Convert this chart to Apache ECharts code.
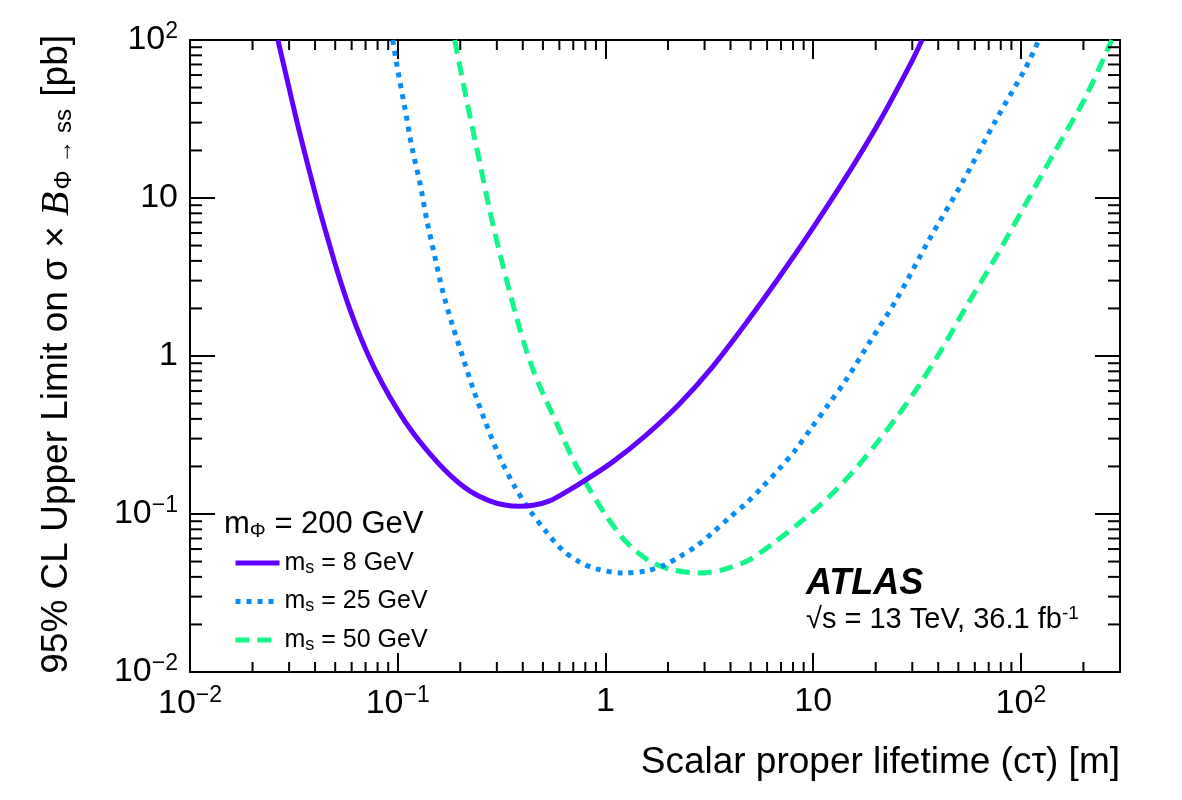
<!DOCTYPE html>
<html><head><meta charset="utf-8">
<script src="https://cdn.jsdelivr.net/npm/echarts@6/dist/echarts.min.js"></script>
<style>html,body{margin:0;padding:0;background:#fff}#c{width:1182px;height:800px}</style>
</head><body><div id="c"></div>
<script>
// ---------------- data ----------------
const seriesNames = ['m_s = 8 GeV', 'm_s = 25 GeV', 'm_s = 50 GeV'];

const ctau8 = [0.0265,0.0296,0.0330,0.0369,0.0412,0.0461,0.0515,0.0588,0.0671,0.0775,0.0916,0.114,0.143,0.178,0.222,0.277,0.327,0.386,0.456,0.538,0.635,0.750,1.08,1.57,2.27,3.27,4.76,6.87,9.89,14.4,20.8,29.9,33.4];
const limit8 = [100,53.4,29.0,16.2,9.29,5.50,3.35,1.98,1.26,0.828,0.551,0.350,0.240,0.177,0.140,0.121,0.114,0.112,0.114,0.121,0.136,0.155,0.213,0.316,0.497,0.851,1.62,3.16,6.36,13.6,30.3,73.6,100];

const ctau25 = [0.0946,0.100,0.108,0.117,0.128,0.138,0.151,0.164,0.182,0.203,0.230,0.262,0.309,0.365,0.431,0.520,0.621,0.750,0.905,1.21,1.57,1.92,2.27,2.74,3.27,3.94,4.76,5.69,6.87,8.28,9.89,11.9,14.4,18.6,25.1,36.1,52.0,75.9,106,122];
const limit25 = [100,64.6,37.7,21.0,12.4,7.26,4.24,2.62,1.62,1.04,0.627,0.394,0.230,0.150,0.106,0.0769,0.0591,0.0497,0.0449,0.0424,0.0436,0.0475,0.0535,0.0627,0.0759,0.0944,0.117,0.148,0.193,0.258,0.356,0.497,0.705,1.21,2.26,5.42,12.4,31.2,67.5,100];

const ctau50 = [0.188,0.203,0.222,0.248,0.277,0.309,0.345,0.386,0.431,0.482,0.581,0.693,0.837,1.01,1.26,1.63,2.10,2.83,3.65,4.92,6.35,8.57,11.9,16.1,20.8,25.1,32.4,41.7,54.4,75.9,106,147,205,274];
const limit50 = [100,60.0,33.5,16.9,8.40,4.55,2.58,1.50,0.944,0.646,0.377,0.226,0.144,0.0971,0.0665,0.0504,0.0443,0.0424,0.0443,0.0512,0.0646,0.0877,0.128,0.195,0.294,0.406,0.655,1.11,2.04,4.24,9.29,20.1,43.6,100];

const xTickValues = [0.01, 0.1, 1, 10, 100];
const xTickLabels = ['10^\u22122', '10^\u22121', '1', '10', '10^2'];
const yTickValues = [0.01, 0.1, 1, 10, 100];
const yTickLabels = ['10^\u22122', '10^\u22121', '1', '10', '10^2'];

const xTitle = 'Scalar proper lifetime (c\u03C4) [m]';
const expLabel = 'ATLAS';

// ---------------- helpers ----------------
const F = "'Liberation Sans', Arial, Helvetica, sans-serif";
const colors = ['#6200ff', '#0a8cf5', '#14f58a'];

function zip(a, b) { return a.map((v, i) => [v, b[i]]); }
function toRich(lbl) {
  const i = lbl.indexOf('^');
  if (i < 0) return '{b|' + lbl + '}';
  return '{b|' + lbl.slice(0, i) + '}{sup|' + lbl.slice(i + 1) + '}';
}
function labelFor(values, labels) {
  return function (v) {
    for (let i = 0; i < values.length; i++) {
      if (Math.abs(Math.log10(v) - Math.log10(values[i])) < 1e-6) return toRich(labels[i]);
    }
    return '';
  };
}
function legendRich(name) {
  const m = name.match(/^(\w)_(\w+)(.*)$/);
  return '{m|' + m[1] + '}{sub|' + m[2] + '}{m|' + m[3] + '}';
}
const tickRich = {
  b: { fontFamily: F, fontSize: 34, color: '#000', lineHeight: 36 },
  sup: { fontFamily: F, fontSize: 23, color: '#000', padding: [0, 0, 16, 0] }
};

// minor ticks (axis furniture)
const minorX = [], minorY = [];
for (let e = -2; e <= 2; e++) for (let m = 2; m <= 9; m++) { const v = m * Math.pow(10, e); if (v < 300) minorX.push([v, 1]); }
for (let e = -2; e <= 1; e++) for (let m = 2; m <= 9; m++) minorY.push([1, m * Math.pow(10, e)]);

const MAJX = 19, MINX = 10, MAJY = 25, MINY = 12;

function minorXItem(params, api) {
  const cs = params.coordSys;
  const p = api.coord([api.value(0), api.value(1)]);
  const x = p[0], b = cs.y + cs.height, t = cs.y;
  const st = { stroke: '#000', lineWidth: 2 };
  return { type: 'group', children: [
    { type: 'line', shape: { x1: x, y1: b, x2: x, y2: b - MINX }, style: st },
    { type: 'line', shape: { x1: x, y1: t, x2: x, y2: t + MINX }, style: st }
  ] };
}
function minorYItem(params, api) {
  const cs = params.coordSys;
  const p = api.coord([api.value(0), api.value(1)]);
  const y = p[1], l = cs.x, r = cs.x + cs.width;
  const st = { stroke: '#000', lineWidth: 2 };
  return { type: 'group', children: [
    { type: 'line', shape: { x1: l, y1: y, x2: l + MINY, y2: y }, style: st },
    { type: 'line', shape: { x1: r, y1: y, x2: r - MINY, y2: y }, style: st }
  ] };
}

const axisLine = { show: true, onZero: false, lineStyle: { color: '#000', width: 2 } };

const chart = echarts.init(document.getElementById('c'), null, { renderer: 'canvas' });
chart.setOption({
  animation: false,
  backgroundColor: '#fff',
  grid: { left: 190, right: 62, top: 40, bottom: 128, containLabel: false },
  xAxis: [
    { type: 'log', logBase: 10, min: 0.01, max: 300, position: 'bottom',
      axisLine: axisLine, splitLine: { show: false },
      axisTick: { show: true, inside: true, length: MAJX, lineStyle: { color: '#000', width: 2 } },
      axisLabel: { show: true, margin: 12, formatter: labelFor(xTickValues, xTickLabels), rich: tickRich, showMaxLabel: false } },
    { type: 'log', logBase: 10, min: 0.01, max: 300, position: 'top',
      axisLine: axisLine, splitLine: { show: false },
      axisTick: { show: true, inside: true, length: MAJX, lineStyle: { color: '#000', width: 2 } },
      axisLabel: { show: false } }
  ],
  yAxis: [
    { type: 'log', logBase: 10, min: 0.01, max: 100, position: 'left',
      axisLine: axisLine, splitLine: { show: false },
      axisTick: { show: true, inside: true, length: MAJY, lineStyle: { color: '#000', width: 2 } },
      axisLabel: { show: true, margin: 12, formatter: labelFor(yTickValues, yTickLabels), rich: tickRich } },
    { type: 'log', logBase: 10, min: 0.01, max: 100, position: 'right',
      axisLine: axisLine, splitLine: { show: false },
      axisTick: { show: true, inside: true, length: MAJY, lineStyle: { color: '#000', width: 2 } },
      axisLabel: { show: false } }
  ],
  legend: {
    orient: 'vertical', left: 233, top: 549, padding: 0,
    itemWidth: 44, itemHeight: 14, itemGap: 10.5,
    data: seriesNames,
    formatter: legendRich,
    itemStyle: { opacity: 0, borderWidth: 0 },
    lineStyle: { width: 5 },
    textStyle: { color: '#000', fontFamily: F, rich: {
      m: { fontFamily: F, fontSize: 25, color: '#000', lineHeight: 26 },
      sub: { fontFamily: F, fontSize: 18, color: '#000', lineHeight: 18, padding: [10, 0, 0, 0] }
    } }
  },
  series: [
    { name: seriesNames[0], type: 'line', data: zip(ctau8, limit8), smooth: 0.3, symbol: 'none', showSymbol: false,
      lineStyle: { color: colors[0], width: 5, type: 'solid' }, itemStyle: { color: colors[0] }, z: 5 },
    { name: seriesNames[1], type: 'line', data: zip(ctau25, limit25), smooth: 0.3, symbol: 'none', showSymbol: false,
      lineStyle: { color: colors[1], width: 5, type: [5, 6], cap: 'butt' }, itemStyle: { color: colors[1] }, z: 4 },
    { name: seriesNames[2], type: 'line', data: zip(ctau50, limit50), smooth: 0.3, symbol: 'none', showSymbol: false,
      lineStyle: { color: colors[2], width: 5, type: [14, 8], cap: 'butt' }, itemStyle: { color: colors[2] }, z: 3 },
    { type: 'custom', name: 'minorX', data: minorX, renderItem: minorXItem, silent: true, z: 6, clip: false },
    { type: 'custom', name: 'minorY', data: minorY, renderItem: minorYItem, silent: true, z: 6, clip: false }
  ],
  graphic: [
    { type: 'text', x: 57, y: 35, rotation: Math.PI / 2, silent: true,
      style: { text: '{t|95% CL Upper Limit on \u03C3 \u00D7 }{bi|B}{sub|\u03A6 \u2192 ss}{t| [pb]}',
        align: 'right', verticalAlign: 'middle',
        rich: {
          t: { fontFamily: F, fontSize: 37, fill: '#000', lineHeight: 38 },
          bi: { fontFamily: "'Liberation Serif', 'DejaVu Serif', serif", fontStyle: 'italic', fontSize: 40, fill: '#000', lineHeight: 38 },
          sub: { fontFamily: F, fontSize: 24, fill: '#000', lineHeight: 24, padding: [14, 2, 0, 2] }
        } } },
    { type: 'text', x: 1120, y: 763, silent: true,
      style: { text: xTitle, font: '37px ' + F, fill: '#000', align: 'right', verticalAlign: 'middle' } },
    { type: 'text', x: 224, y: 524, silent: true,
      style: { text: '{m|m}{sub|\u03A6}{m| = 200 GeV}', align: 'left', verticalAlign: 'middle',
        rich: {
          m: { fontFamily: F, fontSize: 31, fill: '#000', lineHeight: 32 },
          sub: { fontFamily: F, fontSize: 20, fill: '#000', lineHeight: 20, padding: [14, 0, 0, 0] }
        } } },
    { type: 'text', x: 806, y: 584, silent: true,
      style: { text: expLabel, font: 'italic bold 36px ' + F, fill: '#000', align: 'left', verticalAlign: 'middle' } },
    { type: 'text', x: 806, y: 620, silent: true,
      style: { text: '{t|\u221As = 13 TeV, 36.1 fb}{sup|-1}', align: 'left', verticalAlign: 'middle',
        rich: {
          t: { fontFamily: F, fontSize: 29, fill: '#000', lineHeight: 30 },
          sup: { fontFamily: F, fontSize: 19, fill: '#000', lineHeight: 19, padding: [0, 0, 13, 0] }
        } } }
  ]
});
</script>
</body></html>
